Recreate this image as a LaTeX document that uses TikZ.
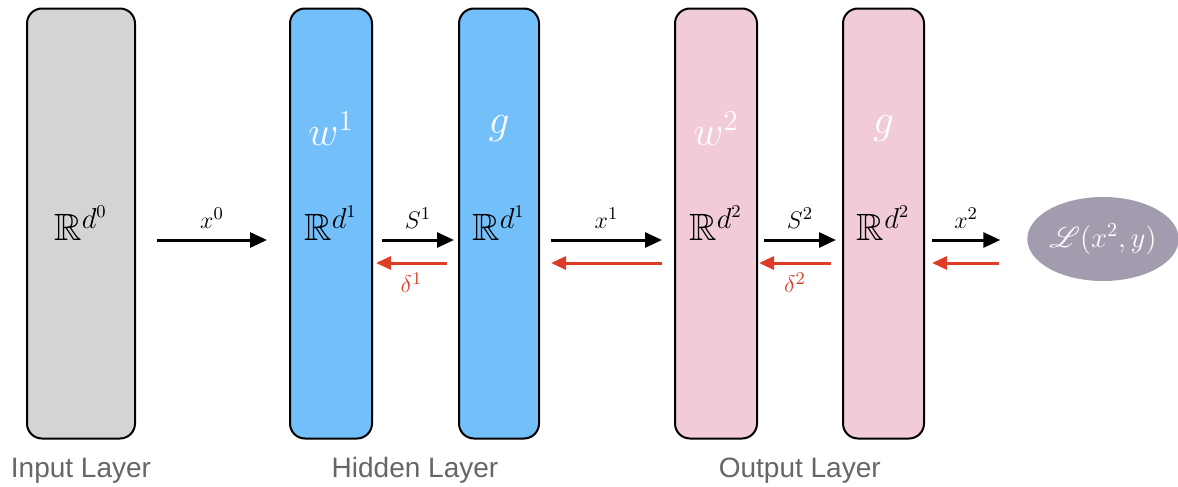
\documentclass[tikz,border=0pt]{standalone}
\usepackage{amsmath,amssymb}
\usepackage{mathrsfs}
\usepackage{fontspec}
\usepackage{xcolor}
\newfontfamily\layerfont{Liberation Sans}
\usetikzlibrary{shapes.geometric, arrows.meta, positioning, calc}

\definecolor{inputgray}{HTML}{D4D4D4}
\definecolor{hiddenblue}{HTML}{73BFF9}
\definecolor{outpink}{HTML}{F1CBD8}
\definecolor{lossgray}{HTML}{A29CAE}
\definecolor{backred}{HTML}{DE3C27}
\definecolor{labelgray}{HTML}{666666}

\begin{document}
\begin{tikzpicture}[x=0.5pt, y=-0.5pt, node distance=40pt, >={Triangle[length=8.5pt,width=7.5pt]}]
        \tikzstyle{layer} = [rectangle, rounded corners=7.5pt, minimum height=215pt, inner sep=0pt, outer sep=0pt, draw=black, line width=1pt, font=\fontsize{19}{21}\selectfont]
        \tikzstyle{toplab} = [text=white, font=\fontsize{20}{22}\selectfont]
        \tikzstyle{layerlab} = [text=labelgray, font=\layerfont\fontsize{14}{16}\selectfont]
        \tikzstyle{fwd} = [line width=1.5pt, ->]
        \tikzstyle{bwd} = [line width=1.5pt, ->, draw=backred, >={Triangle[length=7.5pt,width=6.5pt]}]
        \tikzstyle{arrlab} = [font=\fontsize{13}{15}\selectfont, inner sep=1pt]

        \useasboundingbox (0,0) rectangle (1178,487);

        % Input layer
        \node (in0) [layer, fill=inputgray, minimum width=54pt] at (81,223.5) {$\mathbb{R}^{d^0}$};

        % Hidden layer
        \node (w1) [layer, fill=hiddenblue, minimum width=41pt, right=77.5pt of in0] {$\mathbb{R}^{d^1}$};
        \node (g1) [layer, fill=hiddenblue, minimum width=40pt, right=43.5pt of w1] {$\mathbb{R}^{d^1}$};
        \node (w1lab) [toplab] at ([yshift=-60pt]w1.north) {$w^1$};
        \node (g1lab) [toplab] at ([yshift=-60pt]g1.north) {$g$};

        % Output layer
        \node (w2) [layer, fill=outpink, minimum width=41pt, right=68pt of g1] {$\mathbb{R}^{d^2}$};
        \node (g2) [layer, fill=outpink, minimum width=40.5pt, right=43pt of w2] {$\mathbb{R}^{d^2}$};
        \node (w2lab) [toplab] at ([yshift=-60pt]w2.north) {$w^2$};
        \node (g2lab) [toplab] at ([yshift=-60pt]g2.north) {$g$};

        % Loss
        \node (loss) [ellipse, fill=lossgray, inner sep=0pt, outer sep=0pt, minimum width=74pt, minimum height=42pt, text=white, font=\fontsize{14}{16}\selectfont] at (1103,239) {$\mathscr{L}(x^2,y)$};

        % Layer names
        \node (inname) [layerlab] at ([yshift=-16pt]in0.south) {Input Layer};
        \node (hidname) [layerlab] at ($(w1.south)!0.5!(g1.south)+(0,-16pt)$) {Hidden Layer};
        \node (outname) [layerlab] at ($(w2.south)!0.5!(g2.south)+(0,-16pt)$) {Output Layer};

        % Forward pass
        \draw [fwd] ([shift={(11pt,-8.25pt)}]in0.east) -- node[arrlab, above=4pt] {$x^0$} ([shift={(-11.5pt,-8.25pt)}]w1.west);
        \draw [fwd] ([shift={(5pt,-8.25pt)}]w1.east) -- node[arrlab, above=4pt] {$S^1$} ([shift={(-2.5pt,-8.25pt)}]g1.west);
        \draw [fwd] ([shift={(6pt,-8.25pt)}]g1.east) -- node[arrlab, above=4pt] {$x^1$} ([shift={(-6.5pt,-8.25pt)}]w2.west);
        \draw [fwd] ([shift={(3.5pt,-8.25pt)}]w2.east) -- node[arrlab, above=4pt] {$S^2$} ([shift={(-3.5pt,-8.25pt)}]g2.west);
        \draw [fwd] ([shift={(4pt,-8.25pt)}]g2.east) -- node[arrlab, above=4pt] {$x^2$} ([shift={(-13.5pt,-0.5pt)}]loss.west);

        % Backward pass
        \draw [bwd] ([shift={(-6pt,-19.75pt)}]g1.west) -- node[arrlab, text=backred, below=3pt] {$\delta^1$} ([shift={(2pt,-19.75pt)}]w1.east);
        \draw [bwd] ([shift={(-6.5pt,-19.75pt)}]w2.west) -- ([shift={(6pt,-19.75pt)}]g1.east);
        \draw [bwd] ([shift={(-6pt,-19.75pt)}]g2.west) -- node[arrlab, text=backred, below=3pt] {$\delta^2$} ([shift={(1pt,-19.75pt)}]w2.east);
        \draw [bwd] ([shift={(-14pt,-12pt)}]loss.west) -- ([shift={(4pt,-19.75pt)}]g2.east);
    \end{tikzpicture}
\end{document}
